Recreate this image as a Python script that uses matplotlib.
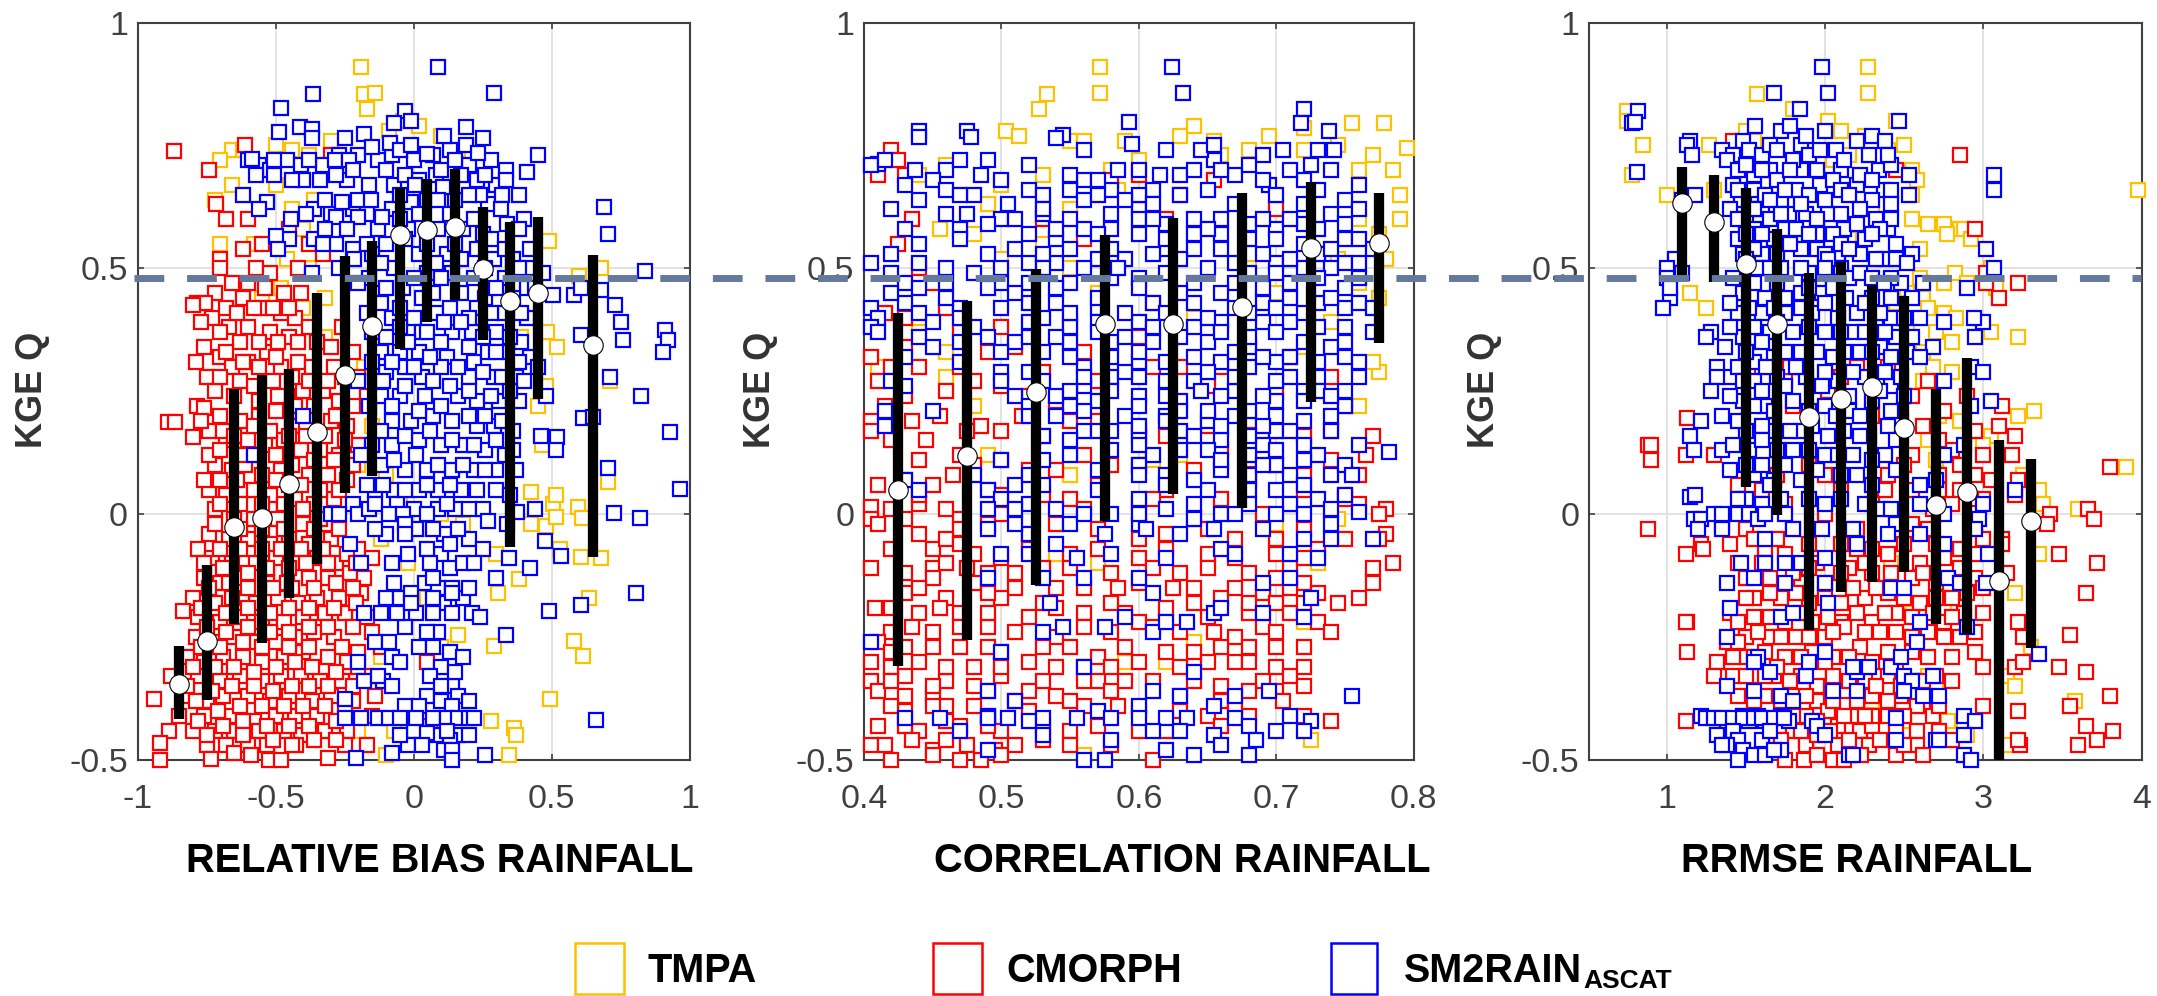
import matplotlib
matplotlib.use("Agg")
import matplotlib.pyplot as plt
from matplotlib.lines import Line2D
from matplotlib.patches import Rectangle
from matplotlib.transforms import blended_transform_factory

W, H = 2157, 996
plt.rcParams['font.family'] = ['Liberation Sans', 'DejaVu Sans']

KGE_REF = 0.48
SERIES_NAMES = ['TMPA', 'CMORPH', 'SM2RAIN']
YLABEL = 'KGE Q'

# ---------- Panel 1: relative bias ----------
RB_TMPA = [(-.19,.91),(-.18,.855),(-.14,.857),(-.17,.825),(-.04,.8),(.02,.79),(-.09,.78),(.1,.77),(.16,.74),(-.66,.74),(-.7,.72),(-.62,.74),
(-.5,.75),(-.44,.74),(-.38,.73),(-.3,.76),(-.66,.67),(-.72,.64),(-.62,.65),(-.5,.67),(-.44,.62),(-.36,.64),(-.4,.58),(-.58,.55),(-.7,.55),(-.46,.52),(-.38,.5),(-.31,.55),
(-.48,.46),(-.55,.44),(-.4,.42),(-.32,.44),(-.32,.36),(.49,.555),(.68,.5),(.6,.485),(.41,.695),(.485,.37),(.52,.34),(.48,.26),(.71,.27),(.39,.36),(.45,.22),
(-.18,.3),(-.15,.18),(-.1,.08),(-.05,.02),(.02,-.03),(-.12,-.05),(-.2,.1),(-.02,-.1),(.1,.0),(.18,-.02),(.3,-.08),(.425,.045),(.505,.02),(.515,.04),(.425,-.02),(.48,-.025),(.515,-.005),(.595,.015),(.61,-.008),
(.53,-.07),(.68,-.09),(.605,-.088),(.705,.065),(.465,.14),(.38,-.132),(.305,-.16),(.635,-.17),(.16,-.245),(.29,-.268),(.58,-.257),(.615,-.288),(.495,-.375),(.28,-.42),(.365,-.435),(.37,-.45),(.345,-.49),
(-.12,-.29),(-.05,-.3),(-.1,-.49),(-.07,-.44),(-.2,-.44),(-.25,-.2),(.05,-.17),(.1,-.27)]
RB_CMORPH = [(-.87,.738),(-.74,.699),(-.715,.63),(-.68,.6),(-.61,.75),(-.3,.73),(-.7,.52),(-.7,.5),(-.62,.54),(-.57,.5),(-.52,.49),(-.6,.6),(-.55,.55),(-.45,.58),(-.38,.55),(-.33,.53),(-.42,.5),
(-.72,.45),(-.785,.43),(-.755,.43),(-.8,.425),(-.73,.4),(-.68,.42),(-.62,.44),(-.55,.42),(-.48,.41),(-.43,.4),(-.67,.38),(-.6,.38),(-.52,.37),(-.45,.36),(-.38,.38),(-.3,.34),(-.26,.38),
(-.7,.32),(-.66,.3),(-.6,.31),(-.53,.33),(-.48,.3),(-.42,.31),(-.37,.3),(-.29,.3),(-.22,.33),(-.2,.28),(-.75,.28),(-.72,.25),(-.65,.24),(-.58,.26),(-.51,.27),(-.46,.24),(-.4,.25),(-.33,.25),(-.27,.23),(-.17,.24),
(-.785,.22),(-.76,.215),(-.7,.2),(-.63,.19),(-.56,.2),(-.5,.21),(-.44,.18),(-.38,.2),(-.3,.19),(-.24,.18),(-.89,.187),(-.865,.187),(-.8,.157),(-.74,.17),(-.68,.15),(-.6,.15),(-.54,.14),(-.47,.15),(-.41,.13),(-.34,.13),(-.27,.12),(-.2,.14),
(-.72,.1),(-.66,.09),(-.61,.1),(-.55,.08),(-.48,.09),(-.38,.08),(-.31,.08),(-.24,.07),(-.74,.05),(-.68,.04),(-.62,.05),(-.52,.04),(-.43,.03),(-.36,.02),(-.29,.03),(-.72,.01),(-.65,-.01),(-.58,-.01),(-.49,-.01),(-.4,-.02),(-.32,-.02),
(-.74,-.04),(-.67,-.05),(-.6,-.05),(-.52,-.06),(-.45,-.05),(-.38,-.06),(-.3,-.05),(-.78,-.07),(-.73,-.09),(-.66,-.1),(-.57,-.1),(-.5,-.09),(-.42,-.1),(-.35,-.09),(-.28,-.1),(-.2,-.07),(-.15,-.09),
(-.76,-.13),(-.7,-.14),(-.63,-.13),(-.53,-.14),(-.46,-.14),(-.38,-.13),(-.31,-.13),(-.23,-.12),(-.18,-.13),(-.8,-.17),(-.72,-.18),(-.66,-.17),(-.57,-.18),(-.49,-.17),(-.42,-.18),(-.35,-.17),(-.27,-.17),(-.19,-.16),
(-.835,-.196),(-.78,-.21),(-.7,-.22),(-.63,-.21),(-.55,-.22),(-.47,-.22),(-.4,-.21),(-.32,-.2),(-.25,-.2),(-.17,-.21),(-.79,-.25),(-.72,-.26),(-.65,-.25),(-.58,-.26),(-.5,-.26),(-.43,-.25),(-.36,-.24),(-.29,-.25),(-.15,-.24),
(-.82,-.29),(-.76,-.3),(-.69,-.29),(-.62,-.29),(-.55,-.3),(-.47,-.29),(-.4,-.28),(-.31,-.29),(-.24,-.3),(-.12,-.27),(-.88,-.33),(-.78,-.33),(-.7,-.34),(-.63,-.33),(-.55,-.34),(-.48,-.33),(-.41,-.33),(-.34,-.34),(-.26,-.34),(-.17,-.33),
(-.94,-.375),(-.83,-.37),(-.75,-.38),(-.69,-.37),(-.6,-.37),(-.52,-.38),(-.45,-.37),(-.37,-.38),(-.3,-.37),(-.22,-.38),(-.14,-.37),(-.85,-.41),(-.76,-.41),(-.66,-.41),(-.58,-.42),(-.5,-.41),(-.43,-.41),(-.35,-.41),(-.15,-.41),
(-.885,-.44),(-.8,-.44),(-.72,-.44),(-.65,-.44),(-.56,-.44),(-.47,-.44),(-.41,-.45),(-.32,-.44),(-.24,-.44),(-.92,-.465),(-.75,-.47),(-.68,-.47),(-.6,-.47),(-.53,-.47),(-.425,-.47),(-.17,-.47),(-.25,-.47),(-.92,-.5),(-.735,-.497),(-.65,-.485),(-.59,-.49),(-.525,-.5),(-.48,-.5),(-.31,-.495),(.05,-.3),(.06,-.43)]
RB_CMORPH_DENSE = [(-.66,.47),(-.6,.47),(-.54,.46),(-.47,.45),(-.41,.45),(-.64,.41),(-.58,.42),(-.51,.42),(-.45,.42),(-.77,.39),(-.7,.37),(-.63,.35),(-.56,.35),(-.49,.35),(-.42,.35),(-.35,.35),(-.76,.34),(-.68,.33),(-.62,.31),(-.56,.3),(-.5,.32),(-.44,.28),(-.38,.27),(-.31,.27),(-.25,.28),
(-.79,.31),(-.7,.28),(-.63,.27),(-.56,.23),(-.49,.24),(-.43,.22),(-.36,.22),(-.28,.2),(-.22,.22),(-.77,.19),(-.69,.17),(-.65,.16),(-.58,.18),(-.52,.17),(-.45,.16),(-.39,.16),(-.32,.16),(-.25,.15),(-.74,.12),(-.7,.13),(-.63,.12),(-.57,.12),(-.5,.12),(-.44,.1),(-.36,.11),(-.29,.11),(-.22,.1),
(-.76,.07),(-.7,.07),(-.64,.07),(-.58,.05),(-.5,.07),(-.45,.06),(-.41,.06),(-.34,.05),(-.27,.05),(-.7,.02),(-.63,.02),(-.55,.02),(-.47,.02),(-.4,.01),(-.34,-.01),(-.72,-.02),(-.63,-.03),(-.55,-.03),(-.47,-.03),(-.36,-.03),(-.27,-.03),(-.7,-.07),(-.63,-.07),(-.55,-.07),(-.48,-.07),(-.41,-.07),(-.33,-.07),(-.24,-.08),
(-.76,-.1),(-.69,-.11),(-.6,-.12),(-.53,-.11),(-.45,-.11),(-.39,-.1),(-.31,-.1),(-.21,-.1),(-.74,-.15),(-.67,-.14),(-.6,-.15),(-.51,-.15),(-.44,-.15),(-.36,-.15),(-.28,-.14),(-.22,-.15),(-.77,-.19),(-.68,-.2),(-.6,-.19),(-.52,-.2),(-.45,-.19),(-.38,-.19),(-.29,-.19),(-.21,-.18),
(-.75,-.23),(-.68,-.24),(-.6,-.23),(-.52,-.24),(-.45,-.24),(-.38,-.23),(-.31,-.23),(-.22,-.23),(-.77,-.27),(-.7,-.27),(-.62,-.26),(-.55,-.27),(-.45,-.27),(-.38,-.27),(-.26,-.27),(-.2,-.28),(-.8,-.31),(-.72,-.31),(-.65,-.31),(-.58,-.32),(-.5,-.31),(-.43,-.3),(-.37,-.31),(-.28,-.32),(-.2,-.31),
(-.82,-.35),(-.73,-.36),(-.66,-.35),(-.58,-.35),(-.51,-.36),(-.44,-.35),(-.38,-.35),(-.31,-.35),(-.22,-.35),(-.79,-.38),(-.71,-.4),(-.63,-.39),(-.55,-.39),(-.47,-.39),(-.4,-.39),(-.32,-.39),(-.25,-.4),(-.78,-.42),(-.69,-.43),(-.62,-.42),(-.53,-.43),(-.45,-.43),(-.38,-.43),(-.28,-.42),(-.75,-.45),(-.62,-.45),(-.51,-.46),(-.44,-.47),(-.36,-.46),(-.28,-.46)]
RB_SM2RAIN_DENSE = [(-.56,.71),(-.52,.7),(-.46,.72),(-.41,.71),(-.33,.71),(-.27,.73),(-.2,.73),(-.13,.72),(-.08,.73),(.0,.72),(.07,.73),(.13,.74),(.2,.71),(.28,.72),(-.4,.68),(-.34,.68),(-.24,.68),(-.16,.67),(-.07,.67),(.02,.68),(.08,.69),(.17,.69),(.23,.68),(.3,.67),
(-.36,.62),(-.3,.61),(-.22,.62),(-.17,.61),(-.08,.62),(.05,.64),(.15,.64),(.27,.63),(-.45,.56),(-.36,.56),(-.28,.55),(-.13,.58),(-.02,.58),(.09,.58),(.18,.58),(.25,.57),(.34,.59),(.4,.6),(-.27,.5),(-.15,.53),(.02,.53),(.12,.53),(.23,.54),(.29,.52),(.36,.52),(.42,.5),
(-.16,.48),(-.07,.5),(.05,.49),(.14,.49),(.22,.48),(.33,.48),(.41,.46),(-.13,.45),(-.04,.46),(.07,.45),(.17,.45),(.26,.44),(.36,.44),(-.17,.41),(-.08,.4),(.0,.4),(.08,.41),(.23,.42),(.33,.41),(.41,.4),(-.15,.37),(-.05,.38),(.03,.37),(.14,.37),(.21,.37),(.3,.37),(.39,.35),
(-.12,.33),(-.05,.33),(.02,.33),(.12,.32),(.22,.31),(.27,.33),(.34,.33),(.42,.32),(-.1,.29),(-.03,.3),(.03,.28),(.1,.3),(.2,.28),(.29,.28),(.37,.28),(-.12,.24),(-.05,.24),(.04,.24),(.16,.24),(.23,.23),(.31,.23),(.38,.23),(-.08,.19),(-.01,.19),(.07,.2),(.14,.19),(.23,.18),(.29,.18),(.36,.17),
(-.15,.14),(-.08,.14),(.02,.15),(.1,.14),(.18,.14),(.26,.13),(.33,.12),(-.12,.1),(-.03,.09),(.05,.09),(.14,.09),(.22,.09),(.3,.09),(-.14,.05),(-.07,.05),(.02,.05),(.09,.05),(.17,.05),(.23,.05),(-.22,.02),(-.06,.02),(.0,.01),(.09,.01),(.15,.01),(.2,.01),(-.1,-.04),(.01,-.03),(.11,-.04),(.2,-.05),(.34,-.02),
(-.02,-.08),(.1,-.08),(.04,-.14),(.09,-.15),(.01,-.2),(.11,-.18),(.18,-.17),(-.03,-.23),(.09,-.24),(-.14,-.26),(.1,-.31),(-.11,-.34),(.05,-.37),(.14,-.35),(.0,-.44),(.08,-.45),(.16,-.45),(-.02,-.47),(.13,-.46)]
RB_SM2RAIN = [(.09,.91),(.29,.857),(-.365,.854),(-.48,.827),(-.487,.777),(-.413,.787),(-.368,.784),(-.37,.766),(-.25,.766),(-.18,.774),(-.03,.82),(-.07,.796),(-.01,.8),(.19,.787),(.25,.766),(.11,.77),
(-.15,.747),(-.085,.754),(-.05,.74),(-.01,.75),(.05,.732),(.19,.75),(.235,.735),(.45,.73),(.41,.695),(.335,.7),(.335,.68),(.26,.69),(.1,.7),(-.6,.72),(-.585,.722),(-.505,.72),(-.38,.72),(-.285,.72),(-.235,.72),
(-.505,.69),(-.57,.69),(-.44,.68),(-.28,.69),(-.22,.7),(-.1,.7),(-.03,.69),(.15,.72),(-.62,.65),(-.53,.635),(-.56,.62),(-.32,.64),(-.26,.635),(-.2,.64),(-.155,.64),(.005,.67),(.105,.665),(.24,.65),(.32,.65),(.38,.65),(.09,.64),(-.01,.635),(.2,.65),(-.05,.65),
(-.445,.6),(-.39,.61),(-.28,.605),(-.2,.605),(-.115,.605),(.315,.62),(.69,.625),(.705,.57),(-.5,.565),(-.32,.58),(-.24,.58),(-.05,.6),(.02,.61),(.13,.61),(.22,.6),(.38,.58),(.28,.56),(-.49,.54),(-.33,.55),(-.22,.54),(-.17,.55),(-.1,.55),(-.03,.56),(.05,.55),(.15,.55),(.33,.54),(.42,.54),
(-.215,.52),(-.12,.51),(.08,.51),(.17,.52),(.26,.5),(.38,.5),(.47,.49),(.84,.495),(-.37,.49),(-.2,.47),(-.1,.46),(.0,.48),(.1,.48),(.3,.46),(.44,.46),(.505,.445),(.58,.445),(.605,.46),(.68,.455),(-.12,.43),(-.05,.42),(.03,.44),(.13,.42),(.2,.4),(.28,.41),(.39,.41),(.73,.425),
(.11,.39),(.17,.39),(.25,.36),(.35,.36),(.75,.39),(.76,.355),(.91,.375),(.92,.355),(.905,.33),(.605,.365),(-.1,.36),(-.02,.35),(.05,.37),(.1,.35),(.2,.34),(.3,.33),(.38,.31),(.45,.3),(-.15,.31),(-.08,.31),(.0,.3),(.06,.32),(.16,.3),(.25,.29),(.32,.28),(.71,.28),(.825,.24),(.4,.27),
(-.2,.27),(-.11,.27),(-.03,.26),(.07,.27),(.13,.26),(.2,.25),(.28,.24),(.35,.25),(.48,.24),(-.16,.22),(-.08,.22),(.02,.21),(.1,.22),(.2,.2),(.26,.2),(.32,.19),(.615,.195),(.65,.197),(.46,.16),(.52,.157),(.515,.13),(.93,.167),
(-.4,.2),(-.58,.12),(-.12,.17),(-.03,.16),(.06,.17),(.14,.15),(.22,.14),(.3,.15),(.36,.13),(.705,.093),(-.19,.12),(-.07,.11),(.01,.12),(.09,.1),(.18,.1),(.26,.09),(.37,.09),(-.17,.06),(-.11,.06),(-.03,.05),(.05,.06),(.13,.06),(.3,.05),(.965,.052),(.35,.04),
(-.3,.0),(-.27,.0),(-.2,.0),(-.16,.01),(-.14,.02),(-.09,.0),(-.04,.0),(.05,.0),(.12,.02),(.25,.01),(.44,.01),(.375,.005),(.725,.003),(.82,-.008),(-.14,-.03),(-.03,-.02),(-.03,-.04),(.07,-.03),(.16,-.03),(.27,-.013),(-.23,-.06),(.05,-.07),(.13,-.06),(.475,-.055),(.25,-.07),
(-.19,-.1),(.06,-.1),(.13,-.11),(.18,-.1),(.22,-.1),(.345,-.09),(.535,-.085),(-.08,-.1),(-.07,-.14),(.07,-.13),(.14,-.15),(.3,-.13),(.42,-.11),(-.1,-.17),(-.05,-.17),(-.01,-.16),(.07,-.17),(.14,-.16),(.2,-.15),(.805,-.16),(.605,-.185),(.49,-.196),
(-.12,-.2),(-.18,-.2),(-.06,-.2),(-.01,-.18),(.07,-.2),(.14,-.2),(.21,-.2),(.24,-.21),(.335,-.245),(.05,-.24),(-.09,-.26),(.02,-.27),(.07,-.27),(.13,-.28),(.18,-.29),(-.2,-.3),(-.08,-.29),(-.05,-.3),(.06,-.33),(.15,-.32),(-.18,-.34),(-.13,-.33),(-.08,-.35),
(.1,-.35),(.16,-.37),(.2,-.38),(-.25,-.375),(-.03,-.39),(.02,-.39),(.1,-.38),(.14,-.39),(-.25,-.415),(-.19,-.415),(-.13,-.415),(-.09,-.415),(-.05,-.415),(.01,-.415),(.07,-.415),(.12,-.415),(.16,-.415),(.2,-.415),(.22,-.415),(.66,-.418),
(-.05,-.45),(.05,-.445),(.12,-.44),(.2,-.45),(.03,-.47),(.11,-.48),(.14,-.48),(.26,-.49),(-.08,-.485),(-.21,-.495),(.14,-.5)]

RB_BIN = [-.85,-.75,-.65,-.55,-.45,-.35,-.25,-.15,-.05,.05,.15,.25,.35,.45,.65]
RB_MED = [-.346,-.258,-.027,-.008,.061,.167,.283,.382,.567,.577,.584,.498,.433,.449,.345]
RB_LOW = [-.417,-.378,-.224,-.263,-.171,-.102,.043,.077,.335,.39,.435,.354,-.066,.235,-.087]
RB_HIGH = [-.268,-.104,.254,.284,.295,.449,.525,.555,.663,.682,.703,.624,.594,.604,.528]

# ---------- Panel 2: correlation ----------
CO_TMPA = [(.572,.91),(.572,.857),(.533,.855),(.527,.825),(.503,.78),(.513,.77),(.55,.76),(.56,.76),(.59,.76),(.64,.79),(.63,.77),(.655,.76),(.72,.785),(.695,.77),(.755,.795),(.778,.795),(.745,.75),(.795,.745),(.77,.73),(.785,.7),(.79,.65),(.79,.6),
(.76,.7),(.72,.74),(.68,.74),(.66,.73),(.6,.72),(.58,.7),(.53,.69),(.46,.71),(.44,.69),(.5,.67),(.49,.63),(.55,.62),(.585,.66),(.61,.6),(.76,.6),(.775,.57),(.775,.55),(.78,.52),(.745,.52),(.76,.47),(.775,.44),(.7,.45),(.68,.5),(.53,.55),(.48,.57),(.455,.58),(.5,.52),(.55,.5),(.57,.45),
(.44,.37),(.46,.33),(.41,.3),(.42,.22),(.48,.22),(.46,.28),(.775,.29),(.77,.31),(.75,.33),(.74,.39),(.72,.34),(.55,.34),(.6,.39),(.64,.4),(.68,.35),(.49,.12),(.72,.1),(.76,.22),(.72,.17),(.55,.08),(.61,.11),(.63,.12),(.7,-.02),(.73,-.1),(.745,-.01),(.54,-.08),(.57,-.1),(.62,-.22),(.64,-.26),(.59,-.3),(.72,-.22),(.725,-.46),(.56,-.49),(.62,-.3)]
CO_CMORPH = [(.42,.74),(.425,.72),(.43,.69),(.41,.69),(.435,.6),(.425,.55),(.44,.5),(.45,.47),(.415,.41),(.43,.4),(.46,.42),(.47,.37),(.5,.38),(.55,.39),(.58,.68),(.6,.69),(.655,.68),(.63,.65),(.53,.6),(.56,.56),(.62,.6),(.7,.62),(.73,.53),(.61,.43),
(.405,.32),(.42,.3),(.43,.34),(.47,.3),(.49,.33),(.51,.34),(.53,.29),(.56,.33),(.6,.36),(.66,.3),(.71,.32),(.74,.28),(.41,.27),(.43,.24),(.46,.25),(.5,.26),(.54,.23),(.61,.3),(.65,.26),(.7,.25),(.75,.22),
(.405,.19),(.405,.17),(.42,.15),(.435,.19),(.455,.2),(.485,.18),(.5,.17),(.53,.16),(.57,.19),(.62,.16),(.68,.19),(.72,.16),(.77,.16),(.44,.11),(.47,.12),(.5,.11),(.52,.09),(.56,.12),(.6,.1),(.66,.13),(.7,.1),(.74,.11),(.765,.12),
(.45,.06),(.465,.08),(.49,.05),(.53,.04),(.57,.06),(.62,.05),(.68,.07),(.72,.05),(.75,.04),(.405,.015),(.42,.01),(.44,.02),(.46,.01),(.47,-.01),(.5,.0),(.55,.03),(.6,.02),(.64,-.01),(.69,.0),(.75,.03),(.78,.01),(.775,.0),
(.405,-.01),(.41,-.02),(.44,-.04),(.47,-.03),(.52,-.04),(.57,-.03),(.62,-.04),(.67,-.05),(.72,-.03),(.78,-.04),(.775,-.05),(.45,-.07),(.48,-.08),(.5,-.09),(.55,-.08),(.6,-.09),(.65,-.08),(.7,-.08),(.73,-.07),(.45,-.11),(.46,-.1),(.49,-.12),(.53,-.11),(.58,-.12),(.63,-.12),(.68,-.12),(.71,-.11),
(.405,-.11),(.45,-.13),(.48,-.14),(.51,-.15),(.56,-.15),(.6,-.14),(.64,-.15),(.69,-.16),(.72,-.14),(.77,-.11),(.785,-.1),(.43,-.16),(.46,-.17),(.5,-.17),(.53,-.18),(.58,-.18),(.62,-.19),(.66,-.17),(.7,-.18),(.73,-.16),(.77,-.14),
(.408,-.19),(.44,-.2),(.47,-.2),(.52,-.21),(.56,-.2),(.6,-.22),(.65,-.21),(.68,-.2),(.71,-.2),(.745,-.18),(.42,-.24),(.45,-.24),(.49,-.23),(.54,-.25),(.58,-.24),(.63,-.24),(.67,-.25),(.69,-.23),(.73,-.22),
(.41,-.26),(.43,-.27),(.47,-.27),(.5,-.28),(.55,-.27),(.59,-.27),(.64,-.28),(.68,-.27),(.72,-.27),(.405,-.3),(.44,-.3),(.48,-.31),(.52,-.3),(.56,-.31),(.6,-.3),(.65,-.3),(.67,-.3),(.7,-.31),
(.405,-.34),(.43,-.33),(.46,-.34),(.5,-.33),(.53,-.34),(.57,-.34),(.61,-.34),(.66,-.35),(.69,-.34),(.71,-.33),(.41,-.36),(.43,-.37),(.45,-.37),(.49,-.36),(.54,-.37),(.58,-.36),(.63,-.37),(.66,-.38),(.7,-.36),
(.43,-.4),(.46,-.39),(.49,-.41),(.52,-.4),(.56,-.39),(.6,-.4),(.65,-.41),(.68,-.41),(.705,-.38),(.72,-.41),(.74,-.42),(.41,-.43),(.44,-.44),(.47,-.43),(.5,-.44),(.55,-.44),(.62,-.44),(.66,-.43),(.405,-.47),(.415,-.47),(.45,-.48),(.475,-.47),(.495,-.48),(.53,-.46),(.58,-.47),(.42,-.5),(.45,-.49),(.47,-.5),(.485,-.5),(.5,-.49),(.61,-.5)]
CO_CMORPH_DENSE = [(.44,.3),(.48,.27),(.52,.24),(.57,.27),(.63,.3),(.415,.22),(.445,.15),(.475,.17),(.515,.2),(.55,.19),(.6,.17),(.65,.18),(.7,.17),(.74,.17),(.43,.07),(.48,.1),(.54,.09),(.58,.1),(.64,.09),(.68,.11),(.72,.08),(.76,.08),(.41,.06),(.44,.04),(.5,.04),(.56,.01),(.61,.03),(.66,.03),(.71,.02),(.76,.02),
(.43,-.01),(.46,-.05),(.49,-.02),(.54,-.02),(.6,-.05),(.65,-.03),(.7,-.05),(.75,-.05),(.42,-.07),(.47,-.06),(.52,-.07),(.57,-.07),(.62,-.07),(.67,-.09),(.72,-.09),(.43,-.12),(.475,-.11),(.51,-.12),(.55,-.11),(.61,-.11),(.65,-.11),(.7,-.13),(.44,-.15),(.49,-.16),(.54,-.15),(.585,-.15),(.625,-.15),(.67,-.15),(.71,-.15),
(.42,-.19),(.455,-.19),(.49,-.2),(.54,-.19),(.59,-.2),(.64,-.18),(.68,-.18),(.72,-.18),(.76,-.17),(.435,-.23),(.47,-.23),(.51,-.24),(.56,-.23),(.61,-.23),(.655,-.24),(.7,-.24),(.74,-.24),(.42,-.28),(.45,-.27),(.49,-.27),(.53,-.27),(.57,-.29),(.62,-.28),(.66,-.27),(.7,-.27),
(.42,-.31),(.46,-.31),(.5,-.31),(.54,-.31),(.58,-.31),(.63,-.31),(.68,-.3),(.72,-.31),(.42,-.34),(.45,-.35),(.48,-.35),(.52,-.36),(.56,-.34),(.59,-.34),(.64,-.34),(.68,-.36),(.72,-.35),(.42,-.39),(.45,-.39),(.48,-.39),(.51,-.38),(.55,-.38),(.585,-.39),(.63,-.4),(.67,-.39),(.43,-.43),(.46,-.42),(.49,-.43),(.53,-.43),(.57,-.43),(.6,-.44),(.435,-.46),(.46,-.46),(.51,-.47),(.55,-.47)]
CO_SM2RAIN_DENSE = [(.44,.64),(.48,.65),(.52,.71),(.56,.68),(.585,.7),(.61,.66),(.63,.69),(.655,.72),(.67,.69),(.695,.67),(.72,.68),(.73,.66),(.58,.66),(.6,.62),(.55,.66),(.53,.61),(.5,.6),(.47,.58),(.54,.56),(.56,.58),(.58,.58),(.6,.6),(.62,.59),(.64,.57),(.66,.57),(.68,.59),(.7,.58),(.72,.59),(.74,.61),(.75,.56),(.77,.54),
(.44,.51),(.46,.5),(.52,.51),(.54,.51),(.57,.52),(.59,.52),(.62,.54),(.64,.54),(.67,.51),(.7,.51),(.72,.5),(.73,.53),(.76,.48),(.43,.47),(.46,.47),(.5,.47),(.52,.47),(.55,.47),(.58,.48),(.6,.48),(.64,.47),(.67,.47),(.71,.47),(.75,.46),(.43,.43),(.47,.42),(.52,.43),(.54,.43),(.57,.42),(.61,.43),(.64,.43),(.67,.42),(.69,.43),(.73,.43),(.75,.42),
(.45,.39),(.48,.38),(.52,.39),(.55,.38),(.57,.39),(.6,.39),(.64,.38),(.66,.39),(.69,.39),(.71,.39),(.75,.38),(.77,.37),(.44,.36),(.47,.35),(.51,.35),(.55,.35),(.58,.35),(.61,.35),(.65,.35),(.68,.34),(.72,.35),(.74,.34),(.53,.33),(.56,.3),(.6,.31),(.62,.31),(.66,.31),(.7,.31),(.75,.32),
(.5,.29),(.53,.27),(.56,.26),(.58,.28),(.6,.28),(.64,.27),(.68,.3),(.71,.28),(.73,.28),(.76,.28),(.51,.24),(.57,.23),(.6,.24),(.63,.23),(.67,.25),(.7,.23),(.72,.25),(.75,.22),(.52,.22),(.55,.22),(.59,.2),(.62,.2),(.65,.19),(.67,.2),(.7,.17),(.74,.2),(.56,.17),(.6,.16),(.63,.17),(.66,.15),(.69,.14),(.72,.14),
(.55,.12),(.58,.13),(.61,.12),(.65,.13),(.68,.12),(.7,.13),(.73,.12),(.57,.09),(.6,.1),(.66,.09),(.71,.08),(.74,.08),(.51,.06),(.53,.06),(.57,.05),(.65,.05),(.68,.05),(.73,.03),(.75,.04),(.52,.02),(.6,.03),(.64,.02),(.68,.02),(.71,.02),(.74,.01),(.52,-.04),(.55,-.02),(.6,-.02),(.64,-.01),(.69,-.03),(.72,-.05),(.66,-.07),(.54,-.06),(.58,-.08)]
CO_SM2RAIN = [(.624,.91),(.632,.857),(.72,.825),(.718,.796),(.593,.797),(.595,.752),(.545,.772),(.54,.765),(.475,.78),(.478,.767),(.41,.713),(.44,.78),(.44,.767),(.405,.71),(.415,.72),(.437,.7),(.46,.7),
(.485,.69),(.47,.72),(.49,.72),(.56,.74),(.62,.74),(.645,.74),(.655,.75),(.69,.73),(.705,.74),(.73,.74),(.738,.78),(.742,.74),(.71,.7),(.725,.71),(.55,.69),(.57,.68),(.6,.7),(.6,.65),(.615,.69),(.64,.7),(.66,.7),(.68,.71),(.69,.68),(.74,.7),(.76,.67),
(.43,.67),(.45,.68),(.46,.66),(.47,.65),(.5,.68),(.505,.63),(.52,.66),(.53,.65),(.56,.64),(.57,.65),(.59,.64),(.61,.63),(.63,.65),(.65,.66),(.67,.63),(.7,.65),(.72,.63),(.75,.64),(.76,.62),
(.42,.62),(.46,.61),(.475,.61),(.49,.59),(.51,.6),(.53,.62),(.55,.6),(.58,.61),(.61,.6),(.64,.6),(.66,.6),(.69,.6),(.71,.6),(.73,.58),(.75,.59),(.43,.58),(.52,.57),(.54,.58),(.57,.57),(.6,.57),(.62,.56),(.65,.58),(.68,.56),(.7,.56),(.72,.55),(.74,.54),(.76,.56),
(.42,.53),(.44,.55),(.47,.56),(.49,.53),(.51,.54),(.53,.53),(.55,.54),(.58,.54),(.61,.53),(.63,.52),(.66,.54),(.69,.53),(.71,.52),(.74,.5),(.75,.51),(.76,.51),(.405,.51),(.42,.49),(.48,.49),(.5,.5),(.53,.5),(.56,.5),(.585,.5),(.62,.49),(.65,.5),(.68,.49),(.7,.49),(.73,.48),
(.42,.45),(.44,.46),(.46,.44),(.49,.46),(.51,.45),(.54,.46),(.57,.44),(.6,.46),(.63,.45),(.66,.45),(.69,.46),(.71,.44),(.74,.44),(.76,.43),(.77,.42),(.405,.42),(.41,.4),(.405,.38),(.41,.37),(.44,.41),(.47,.4),(.5,.42),(.53,.4),(.55,.41),(.59,.41),(.62,.41),(.65,.4),(.68,.41),(.7,.42),(.72,.41),
(.45,.34),(.49,.36),(.52,.36),(.54,.36),(.57,.37),(.59,.36),(.61,.38),(.63,.36),(.66,.37),(.68,.36),(.7,.37),(.73,.38),(.75,.35),(.43,.32),(.47,.31),(.5,.33),(.55,.32),(.58,.32),(.6,.33),(.64,.32),(.67,.33),(.69,.32),(.71,.32),(.73,.31),(.76,.31),
(.42,.27),(.43,.26),(.5,.27),(.52,.29),(.56,.28),(.59,.29),(.62,.27),(.65,.29),(.67,.28),(.7,.27),(.75,.25),(.73,.25),(.54,.24),(.55,.25),(.58,.25),(.62,.24),(.645,.25),(.66,.24),(.69,.24),(.72,.23),(.74,.24),
(.415,.21),(.45,.21),(.52,.2),(.54,.2),(.56,.21),(.6,.22),(.63,.21),(.65,.21),(.68,.21),(.7,.2),(.72,.19),(.415,.18),(.58,.17),(.6,.18),(.62,.19),(.66,.18),(.69,.18),(.71,.17),(.53,.16),(.55,.15),(.57,.17),(.64,.16),(.68,.16),(.74,.17),(.76,.14),(.782,.127),
(.5,.11),(.53,.11),(.6,.14),(.63,.13),(.66,.11),(.7,.1),(.72,.11),(.75,.1),(.48,.08),(.52,.08),(.62,.08),(.64,.07),(.68,.08),(.69,.1),(.755,.08),(.43,.07),(.44,.05),(.49,.05),(.5,.03),(.6,.08),(.62,.06),(.7,.05),(.72,.06),
(.49,.01),(.51,.01),(.54,.01),(.56,.0),(.58,.0),(.6,.0),(.62,.01),(.66,.0),(.67,.0),(.7,.0),(.72,.0),(.76,.005),(.74,-.02),(.51,-.02),(.49,-.03),(.575,-.04),(.605,-.03),(.63,-.04),(.655,-.03),(.74,-.05),(.77,-.05),(.5,-.08),(.52,-.08),(.555,-.09),(.62,-.09),(.67,-.08),(.71,-.08),(.73,-.09),
(.49,-.13),(.53,-.13),(.56,-.13),(.6,-.13),(.61,-.16),(.69,-.14),(.71,-.13),(.535,-.18),(.59,-.21),(.635,-.22),(.655,-.2),(.66,-.19),(.69,-.2),(.725,-.17),(.72,-.21),(.53,-.24),(.545,-.23),(.575,-.23),(.61,-.24),(.62,-.22),
(.5,-.28),(.56,-.31),(.64,-.32),(.405,-.26),(.61,-.36),(.67,-.37),(.695,-.36),(.71,-.41),(.755,-.37),(.725,-.42),(.49,-.36),(.51,-.38),(.57,-.4),(.49,-.41),(.52,-.42),(.6,-.39),(.655,-.39),(.63,-.37),
(.43,-.415),(.455,-.415),(.49,-.415),(.505,-.415),(.53,-.415),(.555,-.415),(.58,-.415),(.6,-.415),(.62,-.415),(.635,-.415),(.67,-.415),(.61,-.44),(.68,-.43),(.7,-.44),(.72,-.44),(.53,-.45),(.47,-.44),(.58,-.46),(.63,-.44),(.655,-.45),(.685,-.46),
(.66,-.47),(.62,-.48),(.49,-.48),(.56,-.5),(.575,-.5),(.64,-.49),(.68,-.49)]

CO_BIN = [.425,.475,.525,.575,.625,.675,.725,.775]
CO_MED = [.049,.118,.248,.386,.386,.421,.541,.551]
CO_LOW = [-.309,-.256,-.144,-.014,.041,.012,.228,.348]
CO_HIGH = [.409,.433,.498,.567,.602,.654,.675,.654]

# ---------- Panel 3: RRMSE ----------
RR_TMPA = [(2.27,.91),(2.27,.857),(1.57,.854),(1.8,.825),(.75,.82),(.75,.8),(.85,.75),(1.27,.75),(1.5,.78),(1.55,.76),(2.02,.8),(2.1,.78),(2.25,.77),(2.4,.74),(2.45,.8),(2.5,.75),(2.55,.7),(2.58,.68),(.78,.69),(1,.65),(2.55,.65),(2.65,.59),(2.85,.58),(3.98,.66),(2.05,.72),(2.15,.73),(2.3,.62),
(2.55,.6),(2.6,.54),(2.75,.59),(2.77,.57),(2.88,.58),(2.92,.56),(3.05,.5),(2.82,.49),(2.75,.47),(2.6,.48),(2.52,.45),(2.62,.44),(2.65,.42),(2.9,.47),(2.75,.41),(2.83,.4),(3.08,.46),(3.05,.37),(2.15,.56),(2.45,.43),(1.15,.45),(1.25,.42),(1.3,.66),
(2.52,.38),(2.7,.37),(2.8,.35),(2.62,.33),(2.95,.36),(2.62,.27),(2.68,.3),(2.8,.29),(3.22,.36),(3.32,.21),(3.05,.16),(3.22,.2),(2.85,.19),(2.72,.2),(2.3,.22),(2.7,.11),(2.75,.12),(2.65,.15),(3.0,.14),(3.25,.08),(3.9,.095),(3.35,.05),(3.38,.02),(3.6,.01),
(1.35,-.03),(2.42,-.1),(2.55,-.13),(3.2,-.16),(3.35,-.08),(2.55,-.2),(2.75,-.19),(3.15,-.33),(3.2,-.35),(3.3,-.27),(2.65,-.33),(2.7,-.35),(3.58,-.38),(3.55,-.39),(2.0,-.35),(2.3,-.38),(2.78,-.42),(2.88,-.43),(2.5,-.42),(2.9,-.45),(3.15,-.47),(2.88,-.49)]
RR_CMORPH = [(.88,.14),(.9,.14),(.9,.11),(1.12,.12),(1.13,.195),(1.3,.12),(.88,-.03),(1.12,-.08),(1.22,-.06),(1.13,-.22),(1.13,-.28),(1.12,-.42),(2.85,.73),(2.95,.58),(3.02,.47),(3.02,.49),(3.22,.47),(3.1,.44),(1.42,.76),(2.45,.7),
(1.6,.3),(1.5,.33),(1.75,.27),(1.85,.3),(2.1,.28),(2.2,.3),(2.4,.3),(2.55,.24),(2.65,.27),(2.75,.21),(2.9,.24),(3.1,.18),(3.2,.16),(3.12,.22),(1.78,.3),(1.8,.22),(2.02,.25),(2.3,.2),(2.48,.19),(2.62,.18),(2.8,.13),(3.0,.12),(3.18,.12),(3.22,.07),(2.95,.08),(2.72,.08),(3.8,.095),
(1.75,.02),(2.1,.05),(2.38,.05),(2.55,.05),(2.72,.05),(2.85,.05),(3.0,.03),(3.2,.04),(3.42,.0),(3.66,.01),(3.7,-.01),(3.4,-.02),(1.35,-.02),(1.5,-.03),(1.8,-.03),(2.0,.0),(2.2,-.03),(2.55,-.02),(2.65,-.03),(3.0,-.05),(3.12,-.05),(3.12,-.06),
(1.23,-.07),(1.4,-.06),(1.62,-.07),(1.75,-.08),(1.95,-.1),(2.2,-.07),(2.4,-.08),(2.6,-.1),(2.75,-.09),(3.48,-.08),(1.5,-.13),(1.65,-.13),(1.85,-.14),(2.0,-.14),(2.15,-.11),(2.3,-.12),(2.55,-.13),(2.7,-.14),(2.95,-.13),(3.15,-.12),(3.72,-.1),(1.55,-.17),(1.72,-.17),(1.9,-.18),(2.1,-.18),(2.25,-.17),(2.4,-.16),(2.6,-.18),(2.8,-.17),(3.65,-.16),
(1.4,-.2),(1.55,-.21),(1.75,-.22),(1.92,-.22),(2.1,-.22),(2.3,-.22),(2.45,-.2),(2.75,-.22),(2.88,-.2),(3.0,-.2),(3.22,-.22),(3.25,-.25),(1.12,-.22),(1.38,-.26),(1.5,-.25),(1.65,-.25),(1.82,-.25),(2.0,-.25),(2.12,-.23),(2.35,-.24),(2.45,-.24),(2.65,-.24),(2.85,-.25),(3.55,-.245),
(1.32,-.3),(1.48,-.29),(1.62,-.28),(1.75,-.29),(1.92,-.28),(2.05,-.29),(2.22,-.27),(2.4,-.28),(2.55,-.28),(2.95,-.28),(3.0,-.31),(3.2,-.31),(3.25,-.3),(3.48,-.31),(3.65,-.32),(1.3,-.33),(1.42,-.33),(1.55,-.33),(1.68,-.33),(1.85,-.33),(2.05,-.33),(2.25,-.34),(2.4,-.33),(2.55,-.34),(2.7,-.33),
(1.45,-.37),(1.62,-.37),(1.8,-.37),(1.95,-.38),(2.12,-.36),(2.3,-.37),(2.48,-.37),(2.65,-.37),(3.0,-.39),(1.48,-.41),(1.7,-.42),(1.88,-.41),(2.02,-.4),(2.2,-.41),(2.4,-.41),(2.62,-.39),(2.68,-.41),(3.22,-.4),(3.55,-.39),(3.65,-.43),(3.8,-.37),(1.72,-.43),
(1.8,-.44),(1.88,-.46),(2.08,-.43),(2.22,-.44),(2.3,-.43),(2.45,-.44),(2.58,-.44),(2.72,-.44),(2.8,-.46),(3.72,-.46),(3.82,-.44),(3.6,-.47),(3.23,-.47),(1.65,-.48),(1.88,-.47),(2.08,-.47),(2.2,-.47),(2.28,-.47),(2.58,-.47),(2.62,-.49),(1.75,-.5),(1.87,-.5),(2.05,-.5),(2.12,-.5),(2.23,-.49),(2.45,-.49),(3.22,-.46),(1.95,-.49)]
RR_CMORPH_DENSE = [(2.55,.12),(2.72,.15),(2.85,.1),(2.95,.17),(3.05,.07),(2.4,.08),(2.5,.1),(2.0,.08),(1.9,.1),(1.7,.08),(1.6,.05),(1.45,.06),(2.3,.02),(2.45,.0),(2.68,.01),(2.8,.02),(2.92,.03),(1.55,-.05),(1.7,-.05),(1.9,-.06),(2.1,-.06),(2.3,-.07),(2.5,-.06),(2.7,-.06),(2.85,-.07),(2.95,-.08),
(1.45,-.1),(1.6,-.1),(1.8,-.12),(1.9,-.11),(2.1,-.12),(2.25,-.1),(2.42,-.12),(2.62,-.12),(2.85,-.11),(1.5,-.17),(1.65,-.16),(1.82,-.16),(2.0,-.17),(2.18,-.15),(2.32,-.15),(2.5,-.17),(2.7,-.17),(2.9,-.16),(3.0,-.15),(1.45,-.22),(1.65,-.21),(1.85,-.2),(2.02,-.21),(2.2,-.2),(2.38,-.2),(2.55,-.21),(2.68,-.2),(2.8,-.21),
(1.45,-.26),(1.58,-.24),(1.72,-.25),(1.9,-.25),(2.05,-.24),(2.25,-.24),(2.55,-.25),(2.75,-.25),(2.95,-.24),(1.42,-.29),(1.55,-.29),(1.7,-.31),(1.85,-.29),(2.0,-.3),(2.15,-.29),(2.3,-.3),(2.45,-.31),(2.65,-.29),(2.8,-.29),(1.5,-.33),(1.62,-.33),(1.78,-.34),(1.95,-.35),(2.15,-.34),(2.32,-.35),(2.48,-.35),(2.62,-.34),(2.8,-.34),
(1.55,-.38),(1.72,-.38),(1.88,-.37),(2.05,-.38),(2.2,-.38),(2.4,-.38),(2.58,-.39),(2.72,-.39),(1.8,-.41),(1.95,-.42),(2.12,-.41),(2.3,-.41),(2.5,-.41),(1.72,-.46),(1.95,-.45),(2.15,-.46),(2.35,-.46),(2.5,-.47),(1.85,-.44),(2.03,-.44),(2.25,-.41)]
RR_SM2RAIN_DENSE = [(1.48,.76),(1.52,.74),(1.6,.73),(1.72,.78),(1.85,.75),(1.9,.73),(1.97,.74),(2.07,.74),(2.2,.76),(2.34,.7),(1.42,.67),(1.55,.69),(1.65,.7),(1.85,.7),(2.1,.7),(2.42,.71),(1.47,.64),(1.58,.65),(1.72,.64),(1.82,.66),(1.97,.67),(2.2,.67),(2.37,.66),(1.5,.6),(1.6,.62),(1.77,.61),(1.88,.61),(2.02,.61),(2.1,.61),(2.32,.6),
(1.45,.56),(1.55,.58),(1.68,.56),(1.75,.58),(1.95,.57),(2.12,.58),(2.25,.56),(2.4,.58),(1.48,.53),(1.6,.53),(1.85,.54),(1.95,.54),(2.08,.53),(2.22,.53),(2.38,.52),(1.58,.5),(1.72,.5),(1.9,.49),(2.1,.5),(2.15,.48),(2.48,.47),(1.48,.45),(1.62,.44),(1.75,.44),(1.85,.45),(1.98,.45),(2.13,.44),(2.3,.44),(2.42,.44),
(1.45,.41),(1.6,.41),(1.75,.41),(1.92,.41),(2.08,.4),(2.2,.41),(2.42,.4),(1.48,.36),(1.65,.37),(1.8,.37),(2.0,.37),(2.18,.37),(2.32,.38),(2.45,.36),(1.55,.31),(1.68,.32),(1.85,.33),(2.05,.32),(2.22,.33),(2.35,.34),(2.52,.33),(1.4,.28),(1.55,.27),(1.7,.28),(1.88,.28),(2.08,.27),(2.25,.28),(2.42,.26),
(1.48,.23),(1.62,.22),(1.8,.23),(2.0,.22),(2.15,.21),(2.3,.23),(1.35,.2),(1.5,.17),(1.68,.17),(1.85,.17),(2.02,.16),(2.28,.16),(2.4,.18),(1.52,.13),(1.7,.13),(1.9,.13),(2.0,.12),(2.38,.12),(1.55,.08),(1.68,.07),(1.85,.07),(2.1,.08),(2.3,.06),(1.5,.03),(1.72,.03),(1.9,.03),(2.1,.03),(2.25,.02)]
RR_SM2RAIN = [(1.98,.91),(2.02,.857),(1.68,.857),(1.84,.825),(.82,.82),(.78,.796),(.8,.797),(1.15,.76),(1.13,.75),(1.16,.73),(.81,.695),(3.07,.69),(3.07,.66),(2.47,.8),(1.56,.79),(1.78,.79),(1.88,.77),(2.0,.78),(2.3,.77),(2.38,.76),
(1.35,.74),(1.42,.73),(1.38,.72),(1.65,.75),(1.7,.74),(1.8,.72),(2.12,.72),(2.28,.73),(2.4,.73),(1.45,.7),(1.5,.71),(1.6,.7),(1.7,.68),(1.78,.7),(1.95,.7),(2.05,.68),(2.22,.69),(2.3,.68),(2.53,.69),(1.45,.66),(1.55,.66),(1.62,.65),(1.75,.66),(1.9,.65),(2.1,.66),(2.15,.65),(2.42,.66),(1.1,.64),(1.18,.65),
(1.4,.62),(1.55,.62),(1.65,.64),(1.85,.63),(2.0,.64),(2.3,.64),(2.42,.63),(2.53,.65),(2.42,.6),(1.45,.6),(1.65,.6),(1.72,.61),(1.95,.6),(2.22,.62),(2.2,.59),(2.35,.58),(1.5,.57),(1.6,.57),(1.82,.58),(1.9,.57),(2.05,.57),(2.3,.57),(2.45,.55),(1.55,.54),(1.7,.53),(1.78,.55),(2.0,.53),(2.1,.55),(2.15,.54),
(2.02,.52),(2.32,.52),(2.45,.52),(2.55,.53),(2.52,.51),(3.02,.54),(3.07,.5),(2.62,.47),(2.9,.46),(1.5,.52),(1.65,.5),(1.85,.5),(2.0,.5),(2.22,.49),(2.3,.48),(2.42,.48),(1.42,.48),(1.55,.47),(1.7,.47),(1.9,.46),(2.05,.46),(1.05,.52),(1.0,.5),(1.1,.49),(1.0,.48),(1.02,.44),(.98,.42),(1.02,.46),
(2.37,.47),(2.55,.44),(2.6,.4),(1.4,.43),(1.52,.42),(1.68,.42),(1.85,.42),(2.0,.43),(2.25,.43),(2.35,.41),(2.5,.4),(2.75,.39),(3.0,.39),(1.4,.38),(1.55,.38),(1.7,.39),(1.9,.38),(2.1,.37),(2.25,.37),(2.38,.37),(2.55,.36),(2.68,.34),(2.94,.4),(2.95,.36),(1.28,.37),(1.25,.36),
(1.37,.34),(1.5,.33),(1.6,.35),(1.75,.33),(1.95,.33),(2.12,.33),(2.3,.33),(2.42,.32),(2.6,.32),(1.32,.3),(1.45,.3),(1.63,.3),(1.82,.3),(2.0,.29),(2.18,.29),(2.38,.29),(2.48,.28),(2.92,.3),(3.0,.29),(1.32,.28),(1.48,.27),(1.6,.25),(1.75,.26),(1.98,.26),(2.15,.24),(2.35,.25),
(2.5,.24),(2.75,.27),(2.92,.22),(3.05,.23),(1.28,.25),(1.4,.24),(1.55,.22),(1.68,.21),(1.9,.21),(2.07,.2),(2.22,.2),(2.42,.21),(1.15,.16),(1.22,.19),(1.45,.19),(1.6,.18),(1.78,.17),(1.92,.18),(2.12,.17),(2.22,.16),(2.45,.15),(1.17,.13),(1.35,.13),(1.42,.14),(1.6,.15),(1.8,.13),
(2.08,.12),(2.18,.12),(2.3,.11),(2.45,.09),(2.75,.12),(2.88,.14),(1.4,.09),(1.5,.1),(1.6,.1),(1.75,.1),(1.95,.09),(2.2,.08),(2.6,.06),(2.7,.07),(1.15,.035),(1.18,.04),(1.45,.03),(1.65,.06),(3.2,.05),(1.6,.02),(2.0,.02),(2.35,.01),(2.42,.01),(2.6,.02),(2.75,.0),(3.0,.02),(2.97,-.01),
(1.17,-.01),(1.22,-.01),(1.3,.0),(1.35,.0),(1.45,.0),(1.52,.0),(1.58,-.01),(1.62,.0),(1.75,.0),(1.98,-.03),(2.18,-.03),(2.45,-.02),(2.6,-.04),(2.95,-.03),(1.2,-.03),(1.35,-.03),(1.62,-.05),(1.8,-.03),(2.2,-.06),(2.4,-.04),(2.75,-.06),(3.03,-.08),
(1.47,-.1),(1.62,-.1),(1.75,-.1),(1.85,-.1),(2.0,-.09),(2.42,-.15),(2.5,-.15),(1.38,-.14),(1.55,-.13),(1.75,-.14),(2.0,-.14),(2.78,-.13),(2.85,-.14),(3.02,-.14),(1.4,-.19),(1.72,-.21),(1.8,-.2),(2.02,-.18),(2.6,-.22),(1.38,-.25),(2.9,-.23),(2.58,-.26),
(1.58,-.29),(1.55,-.3),(1.65,-.32),(1.88,-.33),(1.9,-.3),(2.0,-.28),(2.2,-.32),(2.28,-.31),(2.42,-.31),(2.5,-.33),(2.55,-.34),(2.68,-.33),(1.38,-.35),(1.55,-.36),(1.72,-.37),(1.8,-.38),(2.05,-.36),(2.18,-.31),(2.2,-.36),(2.5,-.36),(2.62,-.37),(2.72,-.37),(3.35,-.285),(2.48,-.29),
(1.38,-.43),(1.42,-.43),(1.48,-.41),(1.52,-.42),(1.58,-.41),(1.62,-.42),(1.72,-.41),(1.77,-.42),(1.92,-.42),(1.95,-.43),(2.45,-.415),(2.7,-.46),(2.88,-.41),(2.95,-.42),(1.22,-.41),(1.25,-.415),(1.3,-.415),(1.35,-.415),(1.42,-.415),(1.48,-.415),(1.55,-.415),(1.6,-.415),(1.68,-.415),(1.74,-.415),
(1.32,-.45),(1.42,-.44),(1.45,-.46),(1.6,-.46),(1.65,-.44),(1.38,-.47),(1.48,-.48),(1.55,-.49),(1.62,-.49),(1.72,-.48),(1.35,-.47),(2.0,-.45),(2.15,-.49),(2.45,-.46),(2.72,-.46),(2.88,-.49),(2.92,-.5),(2.88,-.45),(1.45,-.5),(1.68,-.48),(2.18,-.49)]

RR_BIN = [1.1,1.3,1.5,1.7,1.9,2.1,2.3,2.5,2.7,2.9,3.1,3.3]
RR_MED = [.632,.594,.508,.386,.197,.235,.258,.175,.018,.045,-.136,-.014]
RR_LOW = [.482,.472,.055,-.002,-.236,-.158,-.138,-.118,-.224,-.244,-.5,-.272]
RR_HIGH = [.707,.689,.663,.581,.49,.512,.467,.443,.254,.317,.15,.113]

XTICKS_1 = [-1,-.5,0,.5,1]; XTL_1 = ['-1','-0.5','0','0.5','1']
XTICKS_2 = [.4,.5,.6,.7,.8]; XTL_2 = ['0.4','0.5','0.6','0.7','0.8']
XTICKS_3 = [1,2,3,4]; XTL_3 = ['1','2','3','4']
YTICKS = [-.5,0,.5,1]; YTL = ['-0.5','0','0.5','1']

COLORS = ['#FFC000', '#FF0000', '#0000FF']
INK = '#404040'

panels = [
 dict(box=(137.7,689.6), xlim=(-1,1), ticks=XTICKS_1, tl=XTL_1, pts=[RB_TMPA,RB_CMORPH+RB_CMORPH_DENSE,RB_SM2RAIN_DENSE+RB_SM2RAIN], bin=RB_BIN, med=RB_MED, low=RB_LOW, high=RB_HIGH,
      xlabel='RELATIVE BIAS RAINFALL', xc=440, ylx=33),
 dict(box=(864,1413.8), xlim=(.4,.8), ticks=XTICKS_2, tl=XTL_2, pts=[CO_TMPA,CO_CMORPH+CO_CMORPH_DENSE,CO_SM2RAIN_DENSE+CO_SM2RAIN], bin=CO_BIN, med=CO_MED, low=CO_LOW, high=CO_HIGH,
      xlabel='CORRELATION RAINFALL', xc=1182, ylx=760),
 dict(box=(1589,2141.6), xlim=(.51,4), ticks=XTICKS_3, tl=XTL_3, pts=[RR_TMPA,RR_CMORPH+RR_CMORPH_DENSE,RR_SM2RAIN_DENSE+RR_SM2RAIN], bin=RR_BIN, med=RR_MED, low=RR_LOW, high=RR_HIGH,
      xlabel='RRMSE RAINFALL', xc=1857, ylx=1485),
]

fig = plt.figure(figsize=(W/100, H/100), dpi=100, facecolor='white')
TOP, BOT = 22.5, 760.0
first = None
for p in panels:
    l, r = p['box']
    ax = fig.add_axes([l/W, 1-BOT/H, (r-l)/W, (BOT-TOP)/H])
    if first is None:
        first = ax
    ax.set_xlim(*p['xlim']); ax.set_ylim(-.5, 1)
    ax.set_xticks(p['ticks']); ax.set_xticklabels(p['tl'])
    ax.set_yticks(YTICKS); ax.set_yticklabels(YTL)
    ax.grid(True, color='#e2e2e2', lw=1.4); ax.set_axisbelow(True)
    ax.tick_params(axis='x', direction='in', top=True, length=4, width=1.2, color=INK, labelcolor=INK, labelsize=24.5, pad=17)
    ax.tick_params(axis='y', direction='in', right=True, length=4, width=1.2, color=INK, labelcolor=INK, labelsize=24.5, pad=7)
    for s in ax.spines.values():
        s.set_color(INK); s.set_linewidth(1.5)
    for pts, c in zip(p['pts'], COLORS):
        xs = [a for a, _ in pts]; ys = [b for _, b in pts]
        ax.plot(xs, ys, ls='none', marker='s', ms=10, mfc='white', mec=c, mew=1.6, clip_on=False, zorder=3)
    for b, lo, hi in zip(p['bin'], p['low'], p['high']):
        ax.plot([b, b], [lo, hi], color='black', lw=7.4, solid_capstyle='butt', zorder=5)
    ax.plot(p['bin'], p['med'], ls='none', marker='o', ms=14, mfc='white', mec='black', mew=0.8, zorder=6, clip_on=False)
    fig.text(p['xc']/W, 1-872/H, p['xlabel'], fontweight='bold', fontsize=28.7, color='black', ha='center', va='baseline')
    fig.text(p['ylx']/W, 1-390/H, YLABEL, fontweight='bold', fontsize=26, color='#333333', rotation=90, ha='center', va='center')

tr = blended_transform_factory(fig.transFigure, first.transData)
fig.add_artist(Line2D([134/W, 2141/W], [KGE_REF, KGE_REF], transform=tr, color='#64799B', lw=5,
                      dashes=(30/7, 23/7), dash_capstyle='butt', zorder=20))

legend_boxes = [(575,624),(933,982),(1331,1377)]
legend_x = [648,1006,1404]
for (a, b), c, tx, name in zip(legend_boxes, COLORS, legend_x, SERIES_NAMES):
    fig.add_artist(Rectangle((a/W, 1-994/H), (b-a)/W, 51/H, transform=fig.transFigure, fc='none', ec=c, lw=1.8))
    fig.text(tx/W, 1-982/H, name, fontweight='bold', fontsize=28.5, color='black', va='baseline')
fig.text(1583/W, 1-988/H, 'ASCAT', fontweight='bold', fontsize=19, color='black', va='baseline')

fig.savefig('out.png', dpi=100)
